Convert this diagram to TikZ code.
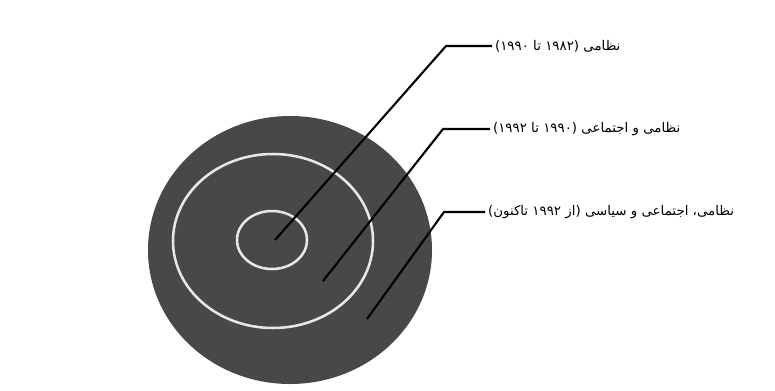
\documentclass[tikz,border=0pt]{standalone}
\usepackage{fontspec}
\usepackage{tikz}
\TeXXeTstate=1
\newfontfamily\arabicfont[Script=Arabic]{DejaVu Sans}
\definecolor{disc}{RGB}{72,72,74}
\definecolor{ring}{RGB}{232,232,232}
\tikzset{ringline/.style={draw=ring,line width=1.8pt},
 leader/.style={line width=1.5pt,black},
 phase/.style={anchor=west,inner sep=2pt,font=\arabicfont\fontsize{9.5}{11}\selectfont}}

\begin{document}
\begin{tikzpicture}[x=0.025cm,y=-0.025cm]
\useasboundingbox (0,0) rectangle (775,390);
% target
\fill[disc] (290,250) ellipse [x radius=142,y radius=134];
\draw[ringline] (273,241) ellipse [x radius=100,y radius=87];
\draw[ringline] (272,240) ellipse [x radius=35,y radius=29];
% labels
\node[phase] (mil) at (492,46) {\beginR نظامی (۱۹۸۲ تا ۱۹۹۰)\endR};
\node[phase] (soc) at (490,129) {\beginR نظامی و اجتماعی (۱۹۹۰ تا ۱۹۹۲)\endR};
\node[phase] (pol) at (485,212) {\beginR نظامی، اجتماعی و سیاسی (از ۱۹۹۲ تاکنون)\endR};
% leaders
\coordinate (in-mil) at (275,240);
\coordinate (in-soc) at (323,281);
\coordinate (in-pol) at (367,319);
\foreach \ring/\bend in {mil/446,soc/443,pol/444}
 \draw[leader] (in-\ring) -- (\bend,0 |- \ring.west) -- (\ring.west);
\end{tikzpicture}
\end{document}
